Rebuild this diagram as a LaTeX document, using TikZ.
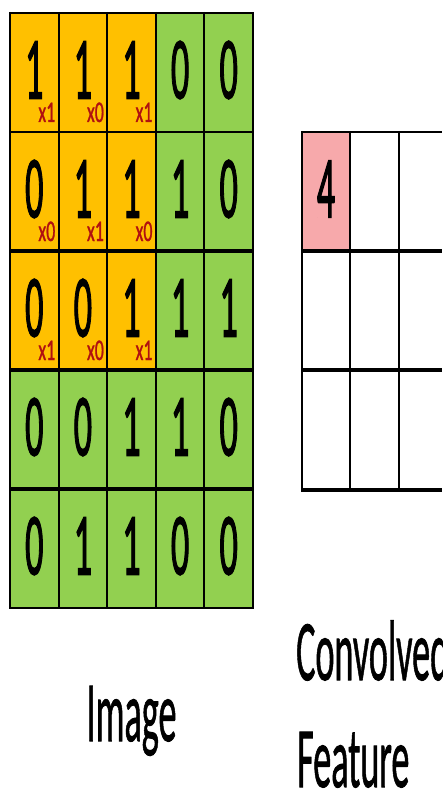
\documentclass[tikz,border=0pt]{standalone}
\usepackage{fontspec}
\setmainfont{Carlito}
\newfontfamily\heavyfont{Carlito}[FakeBold=1.2]
\newfontfamily\digitfont{Carlito}[FakeBold=2.2]
\usepackage{graphicx}
\definecolor{orng}{HTML}{FFC000}
\definecolor{grn}{HTML}{92D050}
\definecolor{pnk}{HTML}{F7A9AB}
\definecolor{subred}{HTML}{B01010}
\tikzset{
  thinline/.style={line width=1.6pt, black},
  midline/.style={line width=2.4pt, black},
  thickline/.style={line width=4pt, black},
  digit/.style={inner sep=0pt, font=\digitfont\fontsize{88}{88}\selectfont},
  subscr/.style={inner sep=0pt, anchor=base east, text=subred, font=\heavyfont\fontsize{30}{30}\selectfont},
  label/.style={inner sep=0pt, font=\heavyfont\fontsize{86}{86}\selectfont}
}
\newcommand{\sq}[1]{\scalebox{0.41}[1]{#1}}
\newcommand{\sql}[1]{\scalebox{0.42}[1]{#1}}
\begin{document}
\begin{tikzpicture}[x=1pt,y=-1pt]
\fill[white] (0,0) rectangle (442,794);
\useasboundingbox (0,0) rectangle (442,794);
% image fills
\fill[grn] (10,13) rectangle (253,608);
\fill[orng] (10,13) rectangle (156,370);
% image digits
\foreach \row [count=\r from 0] in {{1,1,1,0,0},{0,1,1,1,0},{0,0,1,1,1},{0,0,1,1,0},{0,1,1,0,0}}{
  \foreach \d [count=\c from 0] in \row {
    \node[digit] (d\r\c) at ({10+48.6*\c+24.3},{13+119*\r+57}) {\sq{\d}};
  }
}
% kernel subscripts
\foreach \row [count=\r from 0] in {{1,0,1},{0,1,0},{1,0,1}}{
  \foreach \k [count=\c from 0] in \row {
    \node[subscr] (k\r\c) at ({10+48.6*\c+45.5},{13+119*\r+109}) {\scalebox{0.6}[1]{x\k}};
  }
}
% image grid lines
\foreach \x/\w in {10/1.6,59/1.6,107/2.2,156/2.2,204/1.6,253/1.6}{
  \draw[line width=\w pt] (\x,12) -- (\x,609);
}
\draw[midline] (9,13) -- (254,13);
\draw[midline] (9,132) -- (254,132);
\foreach \y in {251,370,489}{
  \draw[thickline] (9,\y) -- (254,\y);
}
\draw[midline] (9,608) -- (254,608);
% convolved feature
\fill[pnk] (302,132) rectangle (350,250);
\node[digit] (f00) at (326,189) {\sq{4}};
\draw[thinline] (302,131) -- (302,491);
\draw[thinline] (350,131) -- (350,491);
\draw[midline] (399,131) -- (399,491);
\draw[midline] (301,132) -- (442,132);
\draw[thickline] (301,251) -- (442,251);
\draw[thickline] (301,370) -- (442,370);
\draw[line width=4.5pt] (301,490) -- (442,490);
% labels
\node[label, anchor=base] (imglabel) at (131.5,741) {\sql{Image}};
\node[label, anchor=base west] (convlabel) at (296,680) {\sql{Convolved}};
\node[label, anchor=base west] (featlabel) at (297,787) {\sql{Feature}};
\end{tikzpicture}
\end{document}
